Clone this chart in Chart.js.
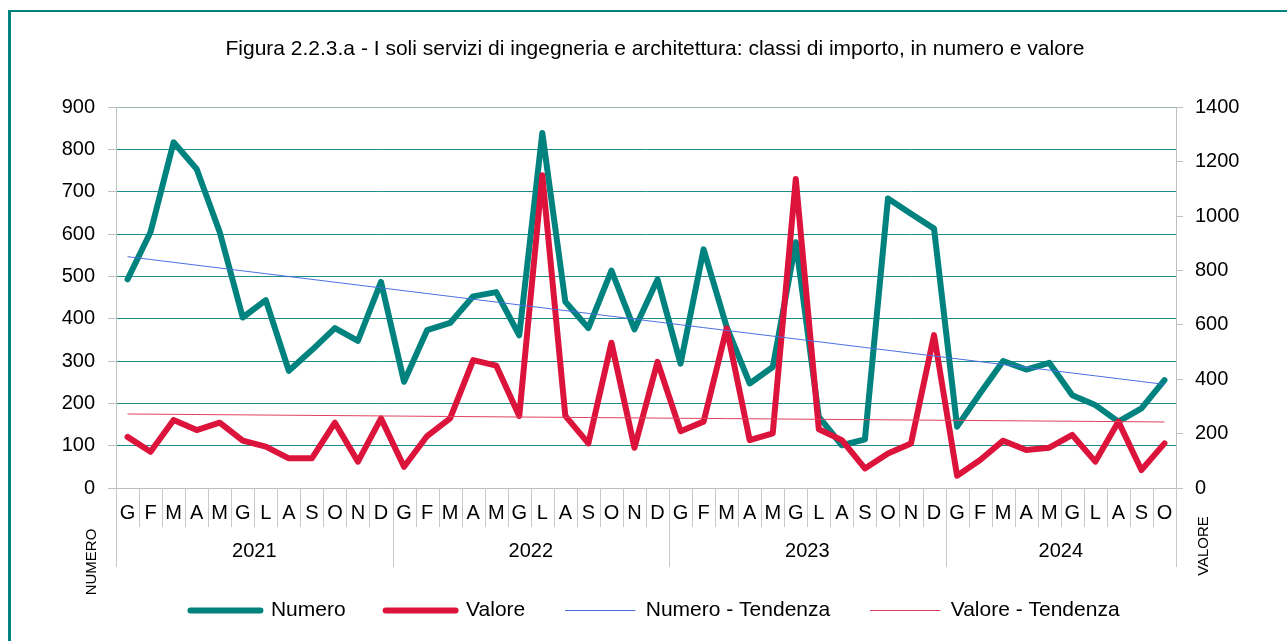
<!DOCTYPE html>
<html>
<head>
<meta charset="utf-8">
<script src="https://cdn.jsdelivr.net/npm/chart.js@4/dist/chart.umd.min.js"></script>
<style>
  html, body { margin: 0; padding: 0; background: #fff; }
  #wrap { position: relative; width: 1287px; height: 641px; }
</style>
</head>
<body>
<div id="wrap"><canvas id="chart" width="1287" height="641"></canvas></div>
<script>
const monthInitials = ["G", "F", "M", "A", "M", "G", "L", "A", "S", "O", "N", "D"];
const years = ["2021", "2022", "2023", "2024"];
const monthsPerYear = [12, 12, 12, 10];

// numero (left axis)
const numero = [
  493, 605, 817, 754, 605, 403, 444, 277, 326, 378, 348, 487,
  251, 373, 390, 453, 463, 361, 839, 440, 378, 514, 375, 493,
  294, 564, 381, 247, 286, 581, 168, 101, 115, 684, 648, 613,
  145, 224, 300, 280, 296, 219, 196, 157, 188, 255
];

// valore (right axis)
const valore = [
  188, 133, 250, 213, 240, 174, 152, 109, 109, 240, 97, 256,
  78, 191, 256, 470, 450, 265, 1150, 265, 164, 534, 148, 464,
  209, 244, 587, 176, 201, 1136, 216, 176, 72, 127, 164, 562,
  45, 103, 174, 140, 148, 195, 97, 244, 66, 164
];

const categories = [];
monthsPerYear.forEach(n => categories.push(...monthInitials.slice(0, n)));

// linear trend, like the spreadsheet one
function trend(values) {
  const n = values.length;
  const mx = (n - 1) / 2;
  const my = values.reduce((a, b) => a + b, 0) / n;
  let sxy = 0, sxx = 0;
  values.forEach((v, i) => {
    sxy += (i - mx) * (v - my);
    sxx += (i - mx) * (i - mx);
  });
  const b = sxy / sxx;
  return values.map((_, i) => my + b * (i - mx));
}

const TEAL = "#00827e";
const RED = "#dc143c";
const FONT = '"Liberation Sans", Arial, sans-serif';

Chart.defaults.font.family = FONT;
Chart.defaults.color = "#000";

const decor = {
  id: "decor",
  beforeDraw(chart) {
    const ctx = chart.ctx;
    ctx.save();
    ctx.fillStyle = TEAL;
    ctx.fillRect(8, 10, 3, chart.height - 10);
    ctx.fillRect(8, 10, chart.width - 8, 2);
    ctx.restore();
  },
  afterDraw(chart) {
    const { ctx, chartArea } = chart;
    const x = chart.scales.x;
    const half = (x.getPixelForValue(1) - x.getPixelForValue(0)) / 2;
    const bottom = chartArea.bottom;

    const yearEdges = [0];
    monthsPerYear.forEach(n => yearEdges.push(yearEdges[yearEdges.length - 1] + n));

    ctx.save();
    ctx.strokeStyle = "#c8c8c8";
    ctx.lineWidth = 1;
    for (let i = 0; i <= categories.length; i++) {
      const px = Math.round(x.getPixelForValue(i) - half) + 0.5;
      const len = yearEdges.includes(i) ? 79 : 39;
      ctx.beginPath();
      ctx.moveTo(px, bottom);
      ctx.lineTo(px, bottom + len);
      ctx.stroke();
    }

    ctx.fillStyle = "#000";
    ctx.font = "20px " + FONT;
    ctx.textAlign = "center";
    ctx.textBaseline = "middle";
    years.forEach((yr, k) => {
      const cx = (x.getPixelForValue(yearEdges[k]) + x.getPixelForValue(yearEdges[k + 1] - 1)) / 2;
      ctx.fillText(yr, cx, bottom + 63);
    });

    ctx.font = "15px " + FONT;
    ctx.save();
    ctx.translate(chartArea.left - 24, bottom + 74);
    ctx.rotate(-Math.PI / 2);
    ctx.fillText("NUMERO", 0, 0);
    ctx.restore();
    ctx.save();
    ctx.translate(chartArea.right + 28, bottom + 58);
    ctx.rotate(-Math.PI / 2);
    ctx.fillText("VALORE", 0, 0);
    ctx.restore();
    ctx.restore();
  }
};

new Chart(document.getElementById("chart"), {
  type: "line",
  data: {
    labels: categories,
    datasets: [
      {
        label: "Numero",
        data: numero,
        yAxisID: "y",
        borderColor: TEAL,
        backgroundColor: TEAL,
        borderWidth: 6,
        borderCapStyle: "round",
        borderJoinStyle: "round",
        pointRadius: 0,
        order: 4
      },
      {
        label: "Valore",
        data: valore,
        yAxisID: "y1",
        borderColor: RED,
        backgroundColor: RED,
        borderWidth: 6,
        borderCapStyle: "round",
        borderJoinStyle: "round",
        pointRadius: 0,
        order: 3
      },
      {
        label: "Numero - Tendenza",
        data: trend(numero),
        yAxisID: "y",
        borderColor: "#4a6fe0",
        backgroundColor: "#4a6fe0",
        borderWidth: 1,
        pointRadius: 0,
        order: 2
      },
      {
        label: "Valore - Tendenza",
        data: trend(valore),
        yAxisID: "y1",
        borderColor: "#e0405e",
        backgroundColor: "#e0405e",
        borderWidth: 1,
        pointRadius: 0,
        order: 1
      }
    ]
  },
  options: {
    responsive: false,
    animation: false,
    layout: { padding: { left: 23, right: 0, top: 0, bottom: 10 } },
    plugins: {
      title: {
        display: true,
        text: "Figura 2.2.3.a - I soli servizi di ingegneria e architettura: classi di importo, in numero e valore",
        font: { size: 21, weight: "normal" },
        color: "#000",
        padding: { top: 37, bottom: 45 }
      },
      legend: {
        position: "bottom",
        labels: {
          boxWidth: 70,
          boxHeight: 0,
          padding: 40,
          font: { size: 21 },
          color: "#000",
          sort: (a, b) => a.datasetIndex - b.datasetIndex
        }
      },
      tooltip: { enabled: false }
    },
    scales: {
      x: {
        type: "category",
        offset: true,
        grid: { display: false },
        border: { display: true, color: "#bfbfbf", width: 1 },
        ticks: { autoSkip: false, maxRotation: 0, padding: 5, font: { size: 20 }, color: "#000" },
        afterFit: s => { s.height = 72; }
      },
      y: {
        position: "left",
        min: 0,
        max: 900,
        ticks: { stepSize: 100, padding: 13, font: { size: 20 }, color: "#000" },
        grid: {
          color: c => c.tick.value === 0 ? "rgba(0,0,0,0)" : (c.tick.value === 900 ? "#93b7b5" : "#1f8d88"),
          tickColor: "#bfbfbf",
          tickLength: 8
        },
        border: { display: true, color: "#bfbfbf", width: 1 },
        afterFit: s => { s.width = 93; }
      },
      y1: {
        position: "right",
        min: 0,
        max: 1400,
        ticks: { stepSize: 200, padding: 12, font: { size: 20 }, color: "#000", format: { useGrouping: false } },
        grid: { drawOnChartArea: false, tickColor: "#bfbfbf", tickLength: 7 },
        border: { display: true, color: "#bfbfbf", width: 1 },
        afterFit: s => { s.width = 111; }
      }
    }
  },
  plugins: [decor]
});
</script>
</body>
</html>
